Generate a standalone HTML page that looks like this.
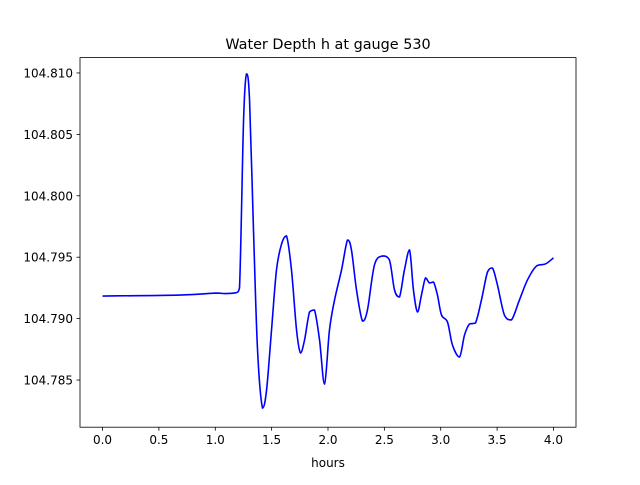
<!DOCTYPE html>
<html><head><meta charset="utf-8"><style>
html,body{margin:0;padding:0;background:#fff;}
svg text{font-family:"DejaVu Sans","Liberation Sans",sans-serif;}
</style></head><body>
<svg id="chart" width="640" height="480" xmlns="http://www.w3.org/2000/svg">
<rect width="640" height="480" fill="#fff"/>
<text x="328" y="49" text-anchor="middle" font-size="14.4">Water Depth h at gauge 530</text>
<g id="xticks"></g>
<g id="yticks"></g>
<path id="line" fill="none" stroke="#0000ff" stroke-width="1.6"/>
<rect x="80" y="57.6" width="496" height="369.6" fill="none" stroke="#000" stroke-width="0.8"/>
<text x="328" y="467" text-anchor="middle" font-size="12">hours</text>
</svg>
<script>
const times=[0,0.683,1.002,1.082,1.180,1.215,1.251,1.277,1.304,1.339,1.375,1.419,1.455,1.499,1.543,1.588,1.632,1.676,1.721,1.756,1.792,1.836,1.880,1.925,1.969,2.013,2.058,2.120,2.173,2.208,2.253,2.306,2.350,2.412,2.483,2.545,2.590,2.634,2.678,2.723,2.758,2.794,2.829,2.865,2.900,2.936,2.971,3.007,3.060,3.104,3.166,3.211,3.255,3.308,3.361,3.415,3.459,3.503,3.565,3.627,3.698,3.769,3.849,3.929,4.0];
const depths=[104.79184,104.79192,104.79208,104.79204,104.79210,104.79250,104.80617,104.80992,104.80780,104.79721,104.78744,104.78272,104.78419,104.78907,104.79396,104.79607,104.79673,104.79396,104.78907,104.78720,104.78826,104.79054,104.79070,104.78826,104.78467,104.78907,104.79151,104.79396,104.79640,104.79559,104.79233,104.78980,104.79070,104.79436,104.79510,104.79477,104.79233,104.79176,104.79396,104.79559,104.79233,104.79054,104.79192,104.79331,104.79290,104.79298,104.79192,104.79029,104.78972,104.78785,104.78687,104.78866,104.78956,104.78964,104.79151,104.79380,104.79412,104.79274,104.79029,104.78989,104.79151,104.79314,104.79428,104.79445,104.79494];
const xTickVals=[0,0.5,1.0,1.5,2.0,2.5,3.0,3.5,4.0];
const xTickLabels=["0.0","0.5","1.0","1.5","2.0","2.5","3.0","3.5","4.0"];
const yTickVals=[104.785,104.790,104.795,104.800,104.805,104.810];
const yTickLabels=["104.785","104.790","104.795","104.800","104.805","104.810"];
const X0=80,X1=576,Y0=427.2,Y1=57.6,xmin=-0.2,xmax=4.2,ymin=104.78116,ymax=104.81125;
const sx=t=>X0+(t-xmin)/(xmax-xmin)*(X1-X0);
const sy=v=>Y0-(v-ymin)/(ymax-ymin)*(Y0-Y1);
const NS="http://www.w3.org/2000/svg";
const xg=document.getElementById('xticks'),yg=document.getElementById('yticks');
xTickVals.forEach((t,i)=>{
 const x=sx(t);
 const l=document.createElementNS(NS,'line');
 l.setAttribute('x1',x);l.setAttribute('x2',x);l.setAttribute('y1',Y0);l.setAttribute('y2',Y0+3.5);l.setAttribute('stroke','#000');l.setAttribute('stroke-width','0.8');
 
 
 xg.appendChild(l);
 const tx=document.createElementNS(NS,'text');
 tx.setAttribute('x',x);tx.setAttribute('y',Y0+17);tx.setAttribute('text-anchor','middle');tx.setAttribute('font-size','12');tx.textContent=xTickLabels[i];
 
 
 xg.appendChild(tx);
});
yTickVals.forEach((v,i)=>{
 const y=sy(v);
 const l=document.createElementNS(NS,'line');
 l.setAttribute('x1',X0-3.5);l.setAttribute('x2',X0);l.setAttribute('y1',y);l.setAttribute('y2',y);l.setAttribute('stroke','#000');l.setAttribute('stroke-width','0.8');
 
 
 yg.appendChild(l);
 const tx=document.createElementNS(NS,'text');
 tx.setAttribute('x',X0-7);tx.setAttribute('y',y+4.5);tx.setAttribute('text-anchor','end');tx.setAttribute('font-size','12');tx.textContent=yTickLabels[i];
 
 
 yg.appendChild(tx);
});
const P=times.map((t,i)=>[sx(t),sy(depths[i])]);
const clamp=(v,a,b)=>Math.max(Math.min(a,b),Math.min(Math.max(a,b),v));
let d='M'+P[0][0]+','+P[0][1];
for(let i=0;i<P.length-1;i++){
 const p0=P[Math.max(0,i-1)],p1=P[i],p2=P[i+1],p3=P[Math.min(P.length-1,i+2)];
 const c1=[p1[0]+(p2[0]-p0[0])/6,clamp(p1[1]+(p2[1]-p0[1])/6,p1[1],p2[1])];
 const c2=[p2[0]-(p3[0]-p1[0])/6,clamp(p2[1]-(p3[1]-p1[1])/6,p1[1],p2[1])];
 d+=' C'+c1[0]+','+c1[1]+' '+c2[0]+','+c2[1]+' '+p2[0]+','+p2[1];
}
document.getElementById('line').setAttribute('d',d);
</script>
</body></html>
